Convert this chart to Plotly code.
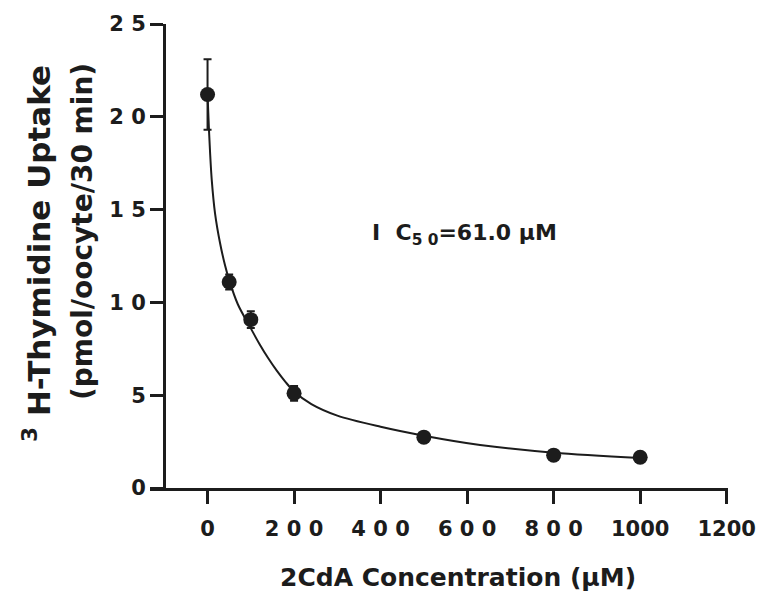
import plotly.graph_objects as go

# Measured data (2CdA concentration in µM vs 3H-thymidine uptake)
conc = [0, 50, 100, 200, 500, 800, 1000]
uptake = [21.2, 11.1, 9.07, 5.1, 2.74, 1.77, 1.66]
sem = [1.9, 0.4, 0.45, 0.4, 0.15, 0.1, 0.1]

# Fitted curve
curve_x = [0, 3.5, 5.8, 9.7, 17.3, 28.9, 40.4, 50, 70, 100, 120, 140, 160, 180, 200,
           240, 300, 400, 500, 630, 800, 1000]
curve_y = [21.2, 19.2, 18.1, 16.6, 14.8, 13.2, 12.0, 11.2, 9.9, 8.6, 7.76, 7.0, 6.32, 5.72, 5.2,
           4.52, 3.9, 3.3, 2.82, 2.32, 1.9, 1.62]

x_tickvals = [0, 200, 400, 600, 800, 1000, 1200]
x_ticktext = ["0", "2 0 0", "4 0 0", "6 0 0", "8 0 0", "1000", "1200"]
y_tickvals = [0, 5, 10, 15, 20, 25]
y_ticktext = ["0", "5", "1 0", "1 5", "2 0", "2 5"]

FONT = "DejaVu Sans"
INK = "#1c1c1c"

W, H = 769, 593
L, R, T, B = 150, 41, 22, 105
pw = W - L - R
ph = H - T - B

fig = go.Figure()
fig.add_trace(go.Scatter(
    x=curve_x, y=curve_y, mode="lines",
    line=dict(color=INK, width=2, shape="spline", smoothing=0.9),
    hoverinfo="skip", showlegend=False))
fig.add_trace(go.Scatter(
    x=conc, y=uptake, mode="markers",
    marker=dict(color=INK, size=15, symbol="circle"),
    error_y=dict(type="data", array=sem, visible=True, color=INK, thickness=2, width=4),
    showlegend=False, cliponaxis=False))

fig.update_layout(
    width=W, height=H,
    margin=dict(l=L, r=R, t=T, b=B),
    paper_bgcolor="white", plot_bgcolor="white",
    xaxis=dict(
        range=[-133, 1203], showgrid=False, zeroline=False,
        showline=True, linecolor=INK, linewidth=3,
        ticks="outside", ticklen=13, tickwidth=3, tickcolor=INK,
        tickmode="array", tickvals=x_tickvals, ticktext=x_ticktext,
        tickfont=dict(family=FONT, size=21, color=INK, weight="bold"),
        ticklabelstandoff=7,
    ),
    yaxis=dict(
        range=[0, 25], showgrid=False, zeroline=False,
        anchor="free", position=(164 - L) / pw,
        showline=True, linecolor=INK, linewidth=3,
        ticks="outside", ticklen=13, tickwidth=3, tickcolor=INK,
        tickmode="array", tickvals=y_tickvals, ticktext=y_ticktext,
        tickfont=dict(family=FONT, size=21, color=INK, weight="bold"),
    ),
    annotations=[
        dict(text="<sup>3</sup> H-Thymidine Uptake", textangle=-90,
             xref="paper", yref="paper",
             x=(37 - L) / pw, y=(488 - 253) / ph,
             xanchor="center", yanchor="middle", showarrow=False,
             font=dict(family=FONT, size=31, color=INK, weight="bold")),
        dict(text="(pmol/oocyte/30 min)", textangle=-90,
             xref="paper", yref="paper",
             x=(82 - L) / pw, y=(488 - 231) / ph,
             xanchor="center", yanchor="middle", showarrow=False,
             font=dict(family=FONT, size=28, color=INK, weight="bold")),
        dict(text="2CdA Concentration (\u03bcM)",
             xref="paper", yref="paper",
             x=(458 - L) / pw, y=(488 - 578) / ph,
             xanchor="center", yanchor="middle", showarrow=False,
             font=dict(family=FONT, size=25, color=INK, weight="bold")),
        dict(text="I\u00a0\u00a0C<sub>5\u00a00</sub>=61.0\u00a0\u03bcM",
             xref="x", yref="y", x=375, y=13.68,
             xanchor="left", yanchor="middle", showarrow=False,
             font=dict(family=FONT, size=22, color=INK, weight="bold")),
    ],
)

fig.write_html("out.html")
